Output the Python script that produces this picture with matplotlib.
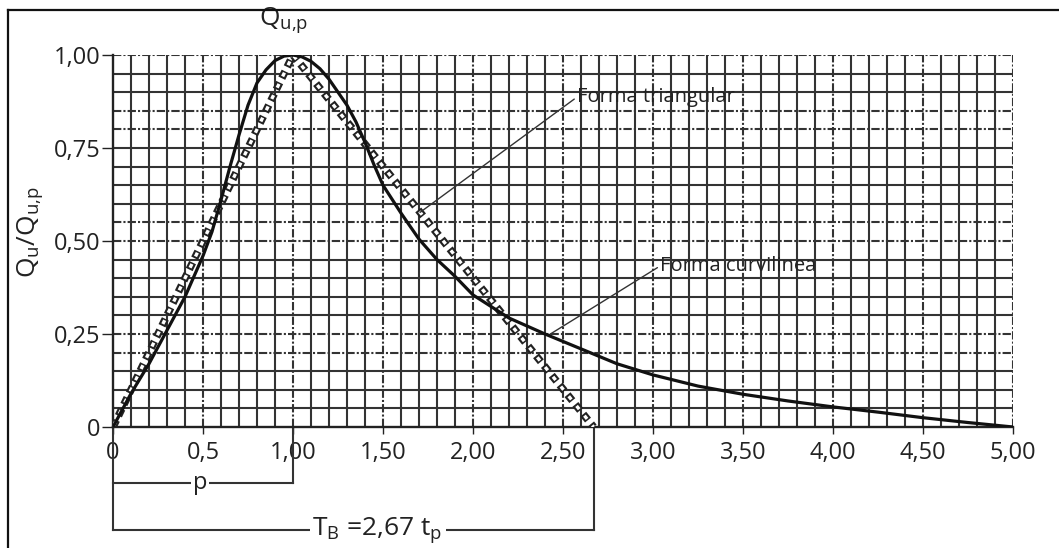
import numpy as np
import matplotlib
matplotlib.use("Agg")
import matplotlib.pyplot as plt
from matplotlib.lines import Line2D

# dimensionless unit hydrograph
curve_t = [0, 0.1, 0.2, 0.3, 0.4, 0.5, 0.55, 0.6, 0.65, 0.7, 0.75, 0.8, 0.85, 0.9,
           0.95, 1.0, 1.05, 1.1, 1.15, 1.2, 1.25, 1.3, 1.35, 1.4, 1.45, 1.5, 1.6,
           1.7, 1.8, 1.9, 2.0, 2.2, 2.4, 2.6, 2.8, 3.0, 3.25, 3.5, 3.75,
           4.0, 4.25, 4.5, 4.75, 5.0]
curve_q = [0, 0.09, 0.17, 0.26, 0.35, 0.46, 0.525, 0.61, 0.70, 0.785, 0.865, 0.925,
           0.96, 0.985, 0.997, 1.0, 0.995, 0.983, 0.963, 0.935, 0.9, 0.865, 0.82,
           0.765, 0.705, 0.65, 0.575, 0.505, 0.45, 0.405, 0.355, 0.293, 0.25, 0.21,
           0.17, 0.14, 0.11, 0.088, 0.07, 0.054, 0.04, 0.025, 0.012, 0]

tri_t = [0, 1.0, 2.67]
tri_q = [0, 1.0, 0]

x_ticks = [0, 0.5, 1, 1.5, 2, 2.5, 3, 3.5, 4, 4.5, 5]
x_labels = ["0", "0,5", "1,00", "1,50", "2,00", "2,50", "3,00", "3,50", "4,00", "4,50", "5,00"]
y_ticks = [0, 0.25, 0.5, 0.75, 1.0]
y_labels = ["0", "0,25", "0,50", "0,75", "1,00"]

plt.rcParams['font.family'] = ['Open Sans', 'DejaVu Sans']
plt.rcParams['lines.scale_dashes'] = False

W, H = 1059, 548
fig = plt.figure(figsize=(W / 100, H / 100), dpi=100)
ax = fig.add_axes([113 / W, 121 / H, 900 / W, 372 / H])
ax.set_xlim(0, 5)
ax.set_ylim(0, 1)

gcol = "#333333"
# grid paper
xs = np.round(np.arange(0.1, 5.001, 0.1), 2)
xs_dash = [x for x in xs if abs(x * 2 - round(x * 2)) < 1e-6]
xs_solid = [x for x in xs if x not in xs_dash]
ax.vlines(xs_solid, 0, 1, color=gcol, lw=1.5, zorder=1)
ax.vlines(xs_dash, 0, 1, color=gcol, lw=1.5, linestyles=[(0, (6, 1.5, 1.5, 1.5))], zorder=1)
ys = np.round(np.arange(0.05, 1.001, 0.05), 2)
ys_dash = [0.2, 0.25, 0.5, 0.55, 0.8, 0.85, 1.0]
ys_solid = [y for y in ys if y not in ys_dash]
ax.hlines(ys_solid, 0, 5, color=gcol, lw=1.5, zorder=1)
ax.hlines(ys_dash, 0, 5, color=gcol, lw=1.5, linestyles=[(0, (6, 1.5, 1.5, 1.5))], zorder=1)

for s in ["top", "right"]:
    ax.spines[s].set_visible(False)
for s in ["left", "bottom"]:
    ax.spines[s].set_linewidth(1.7)
    ax.spines[s].set_color("#222")

# triangular shape: hollow square dashes
ax.plot(tri_t, tri_q, color="#222", lw=5.5, linestyle=(0, (5.5, 3.5)),
        dash_capstyle="butt", zorder=3)
ax.plot(tri_t, tri_q, color="white", lw=2.4, linestyle=(7.6, (3.0, 6.0)),
        dash_capstyle="butt", zorder=3)
# curvilinear shape
ax.plot(curve_t, curve_q, color="#111", lw=2.3, zorder=4)

ax.set_xticks(x_ticks)
ax.set_xticklabels(x_labels)
ax.set_yticks(y_ticks)
ax.set_yticklabels(y_labels)
ax.tick_params(axis="x", length=5, width=1, pad=5, labelsize=17, colors="#222")
ax.tick_params(axis="y", length=8, width=1, pad=1, labelsize=17, colors="#222")

ax.annotate("Forma triangular", xy=(1.706, 0.577), xytext=(2.578, 0.887),
            fontsize=14.5, color="#222", va="center", ha="left",
            arrowprops=dict(arrowstyle="-", lw=1.0, color="#333",
                            shrinkA=0, shrinkB=0, relpos=(0, 0.5)))
ax.annotate("Forma curvilinea", xy=(2.42, 0.247), xytext=(3.04, 0.433),
            fontsize=14.5, color="#222", va="center", ha="left",
            arrowprops=dict(arrowstyle="-", lw=1.0, color="#333",
                            shrinkA=0, shrinkB=0, relpos=(0, 0.5)))

ax.text(0.95, 1.095, r"$\mathregular{Q_{u{,}p}}$", fontsize=19, color="#222",
        ha="center", va="center")
fig.text(30 / W, 1 - 232 / H, r"$\mathregular{Q_u/Q_{u{,}p}}$", fontsize=19,
         color="#222", rotation=90, ha="center", va="center")

# dimension brackets below the axis
yp, yb = -0.1505, -0.277
bk = dict(color="#333", lw=1.5, clip_on=False, zorder=2)
ax.plot([0, 0], [0, yb], **bk)
ax.plot([1.0, 1.0], [0, yp], **bk)
ax.plot([0, 1.0], [yp, yp], **bk)
ax.plot([2.67, 2.67], [0, yb], **bk)
ax.plot([0, 2.67], [yb, yb], **bk)
ax.text(0.483, yp, "p", fontsize=17, color="#222", ha="center", va="center",
        bbox=dict(facecolor="white", edgecolor="none", pad=1.5))
ax.text(1.47, yb, r"$\mathregular{T_B}$ =2,67 $\mathregular{t_p}$", fontsize=19,
        color="#222", ha="center", va="center",
        bbox=dict(facecolor="white", edgecolor="none", pad=2))

# frame of the figure box
fig.add_artist(Line2D([8 / W, 8 / W], [0, 1 - 10 / H], transform=fig.transFigure,
                      color="#111", lw=1.6))
fig.add_artist(Line2D([8 / W, 1], [1 - 10 / H, 1 - 10 / H], transform=fig.transFigure,
                      color="#111", lw=1.6))

fig.savefig("out.png", dpi=100)
